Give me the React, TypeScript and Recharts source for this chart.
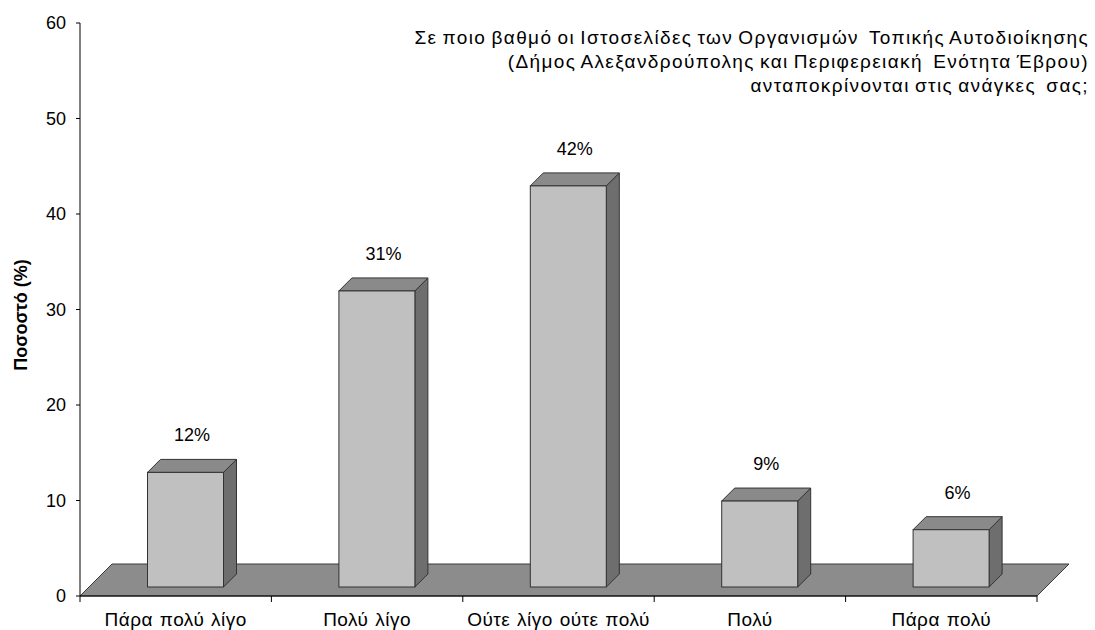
import React from 'react';
import { BarChart, Bar, XAxis, YAxis, ReferenceArea } from 'recharts';

const categories = ['Πάρα πολύ λίγο', 'Πολύ λίγο', 'Ούτε λίγο ούτε πολύ', 'Πολύ', 'Πάρα πολύ'];
const values = [12, 31, 42, 9, 6];
const valueLabels = ['12%', '31%', '42%', '9%', '6%'];
const yTicks = [0, 10, 20, 30, 40, 50, 60];
const titleLines = [
  'Σε ποιο βαθμό οι Ιστοσελίδες των Οργανισμών  Τοπικής Αυτοδιοίκησης',
  '(Δήμος Αλεξανδρούπολης και Περιφερειακή  Ενότητα Έβρου)',
  'ανταποκρίνονται στις ανάγκες  σας;',
];
const yLabel = 'Ποσοστό (%)';

const data = categories.map((c, i) => ({ name: c, value: values[i], label: valueLabels[i] }));

const FONT = '"Liberation Sans", Arial, sans-serif';
const DEPTH = 13;
const FLOOR = 32;

const Box3D = (props: any) => {
  const { x, y, width, height, payload } = props;
  if (width == null || height == null) return null;
  const fx = x + 9.5;
  const fy = y - 9;
  const w = width;
  const h = height;
  const d = DEPTH;
  return (
    <g>
      <polygon
        points={`${fx + w},${fy} ${fx + w + d},${fy - d} ${fx + w + d},${fy + h - d} ${fx + w},${fy + h}`}
        fill="#6e6e6e"
        stroke="#333"
        strokeWidth={1}
      />
      <polygon
        points={`${fx},${fy} ${fx + d},${fy - d} ${fx + w + d},${fy - d} ${fx + w},${fy}`}
        fill="#8a8a8a"
        stroke="#333"
        strokeWidth={1}
      />
      <rect x={fx} y={fy} width={w} height={h} fill="#c0c0c0" stroke="#333" strokeWidth={1} />
      <text
        x={fx + w / 2 + d / 2}
        y={fy - d - 18}
        textAnchor="middle"
        fontFamily={FONT}
        fontSize={18}
        fill="#000"
      >
        {payload.label}
      </text>
    </g>
  );
};

const Floor = (props: any) => {
  const { x, y, width, height } = props;
  const b = y + height;
  return (
    <polygon
      points={`${x},${b} ${x + width},${b} ${x + width + FLOOR},${b - FLOOR} ${x + FLOOR},${b - FLOOR}`}
      fill="#8c8c8c"
      stroke="#3a3a3a"
      strokeWidth={1}
    />
  );
};

const PLOT_W = 957;
const XTick = (props: any) => {
  const { x, y, payload, index } = props;
  const half = PLOT_W / categories.length / 2;
  return (
    <g>
      <line x1={x - half} y1={y} x2={x - half} y2={y + 6} stroke="#000" />
      {index === categories.length - 1 && (
        <line x1={x + half} y1={y} x2={x + half} y2={y + 6} stroke="#000" />
      )}
      <text
        x={x}
        y={y + 30}
        textAnchor="middle"
        fontFamily={FONT}
        fontSize={19}
        letterSpacing={0.5}
        wordSpacing={1}
        fill="#000"
      >
        {payload.value}
      </text>
    </g>
  );
};

export default function App() {
  return (
    <div style={{ position: 'absolute', left: 0, top: 0, width: 1095, height: 630, background: '#fff' }}>
      <BarChart
        width={1095}
        height={630}
        data={data}
        margin={{ top: 23, right: 58, bottom: 0, left: 20 }}
      >
        <XAxis
          dataKey="name"
          height={34}
          tickLine={false}
          tickSize={0}
          tickMargin={0}
          axisLine={{ stroke: '#000' }}
          tick={<XTick />}
          interval={0}
        />
        <YAxis
          width={60}
          domain={[0, 60]}
          ticks={yTicks}
          interval={0}
          tickSize={4}
          tickMargin={10}
          axisLine={{ stroke: '#000' }}
          tickLine={{ stroke: '#000' }}
          tick={{ fill: '#000', fontSize: 18, fontFamily: FONT }}
        />
        <ReferenceArea y1={0} y2={60} ifOverflow="visible" shape={<Floor />} />
        <Bar dataKey="value" barSize={76} isAnimationActive={false} shape={<Box3D />} />
      </BarChart>
      <div
        style={{
          position: 'absolute',
          right: 6,
          top: 26,
          textAlign: 'right',
          fontFamily: FONT,
          fontSize: 19,
          lineHeight: '24px',
          letterSpacing: '1.38px',
          wordSpacing: '-1.5px',
          whiteSpace: 'pre',
          color: '#000',
        }}
      >
        {titleLines.map((t, i) => (
          <div key={i}>{t}</div>
        ))}
      </div>
      <div
        style={{
          position: 'absolute',
          left: 21,
          top: 315,
          transform: 'translate(-50%, -50%) rotate(-90deg)',
          fontFamily: FONT,
          fontSize: 18,
          fontWeight: 'bold',
          whiteSpace: 'nowrap',
          color: '#000',
        }}
      >
        {yLabel}
      </div>
    </div>
  );
}
